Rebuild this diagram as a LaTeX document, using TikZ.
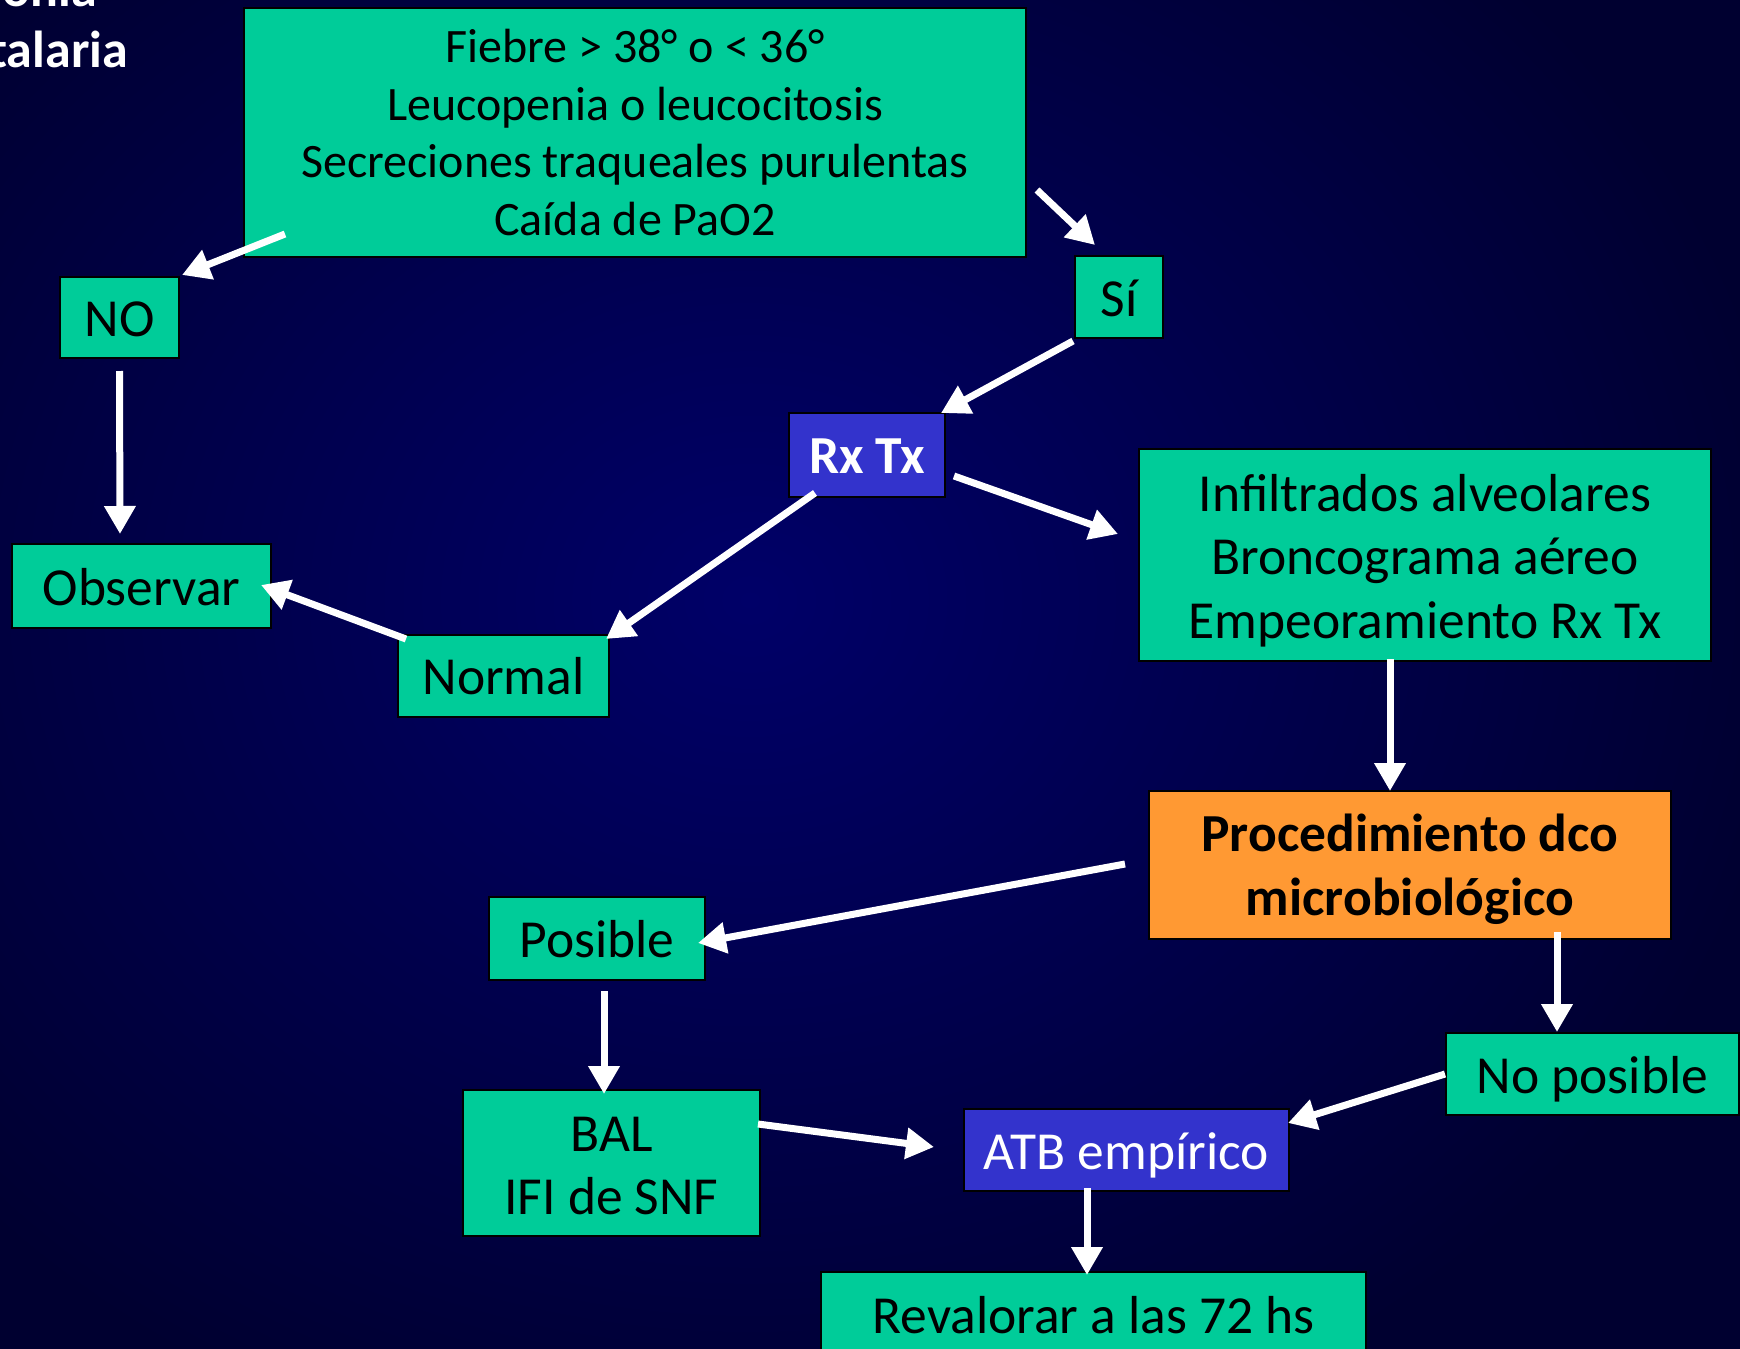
\documentclass[tikz,border=0pt]{standalone}
\usepackage{fontspec}
\setmainfont{Carlito}
\usetikzlibrary{arrows.meta}
\definecolor{bgin}{RGB}{0,0,104}
\definecolor{bgout}{RGB}{0,0,48}
\definecolor{gbox}{RGB}{0,204,153}
\definecolor{bbox}{RGB}{51,51,204}
\definecolor{obox}{RGB}{255,153,51}
\newcommand\lowr[2]{\raisebox{-#1pt}[\height][\depth]{#2}}
\tikzset{
  box/.style={draw=black, line width=2pt, inner sep=0pt, align=center, anchor=center},
  gnode/.style={box, fill=gbox, text=black},
  bnode/.style={box, fill=bbox, text=white},
  onode/.style={box, fill=obox, text=black},
  big/.style={font=\fontsize{53.5}{63.5}\selectfont},
  small/.style={font=\fontsize{48}{57.7}\selectfont},
  ttl/.style={anchor=base east, text=white, font=\fontsize{52}{62}\bfseries\selectfont, inner sep=0pt},
  arr/.style={draw=white, line width=7pt, -{Triangle[length=28pt,width=30pt]}},
}
\begin{document}
\begin{tikzpicture}[x=1pt,y=1pt]
\useasboundingbox (0,0) rectangle (1740,-1349);
\shade[inner color=bgin, outer color=bgout] (-300,300) rectangle (1800,-1500);
% title (cut off at the page edge, as in the reference)
\node[ttl] (t1) at (97,-6) {Neumonía};
\node[ttl] (t2) at (128,-67) {intrahospitalaria};
% nodes
\node[gnode, small, minimum width=782pt, minimum height=249pt] (top) at (635,-132.5) {Fiebre > 38° o < 36°\\Leucopenia o leucocitosis\\Secreciones traqueales purulentas\\Caída de PaO2};
\node[gnode, big, minimum width=119pt, minimum height=81pt] (no) at (119.5,-317.5) {\lowr{2}{NO}};
\node[gnode, big, minimum width=88pt, minimum height=82pt] (si) at (1119,-297) {\lowr{1}{Sí}};
\node[bnode, big, minimum width=156pt, minimum height=84pt] (rx) at (867,-455) {\lowr{1}{\bfseries Rx Tx}};
\node[gnode, big, minimum width=572pt, minimum height=212pt] (inf) at (1425,-555) {\lowr{5.5}{Infiltrados alveolares}\\\lowr{5.5}{Broncograma aéreo}\\\lowr{5.5}{Empeoramiento Rx Tx}};
\node[gnode, big, minimum width=259pt, minimum height=84pt] (obs) at (141.5,-586) {\lowr{1}{Observar}};
\node[gnode, big, minimum width=211pt, minimum height=82pt] (normal) at (503.5,-676) {Normal};
\node[onode, big, minimum width=522pt, minimum height=148pt] (proc) at (1410,-865) {\lowr{4.5}{\bfseries Procedimiento dco}\\\lowr{4.5}{\bfseries microbiológico}};
\node[gnode, big, minimum width=216pt, minimum height=83pt] (pos) at (597,-938.5) {\lowr{1}{Posible}};
\node[gnode, big, minimum width=293pt, minimum height=82pt] (nopos) at (1592.5,-1074) {\lowr{5.5}{No posible}};
\node[gnode, big, minimum width=297pt, minimum height=146pt] (bal) at (611.5,-1163) {\lowr{3}{BAL}\\\lowr{3}{IFI de SNF}};
\node[bnode, big, minimum width=325pt, minimum height=82pt] (atb) at (1126.5,-1150) {\lowr{5.5}{ATB empírico}};
\node[gnode, big, minimum width=545pt, minimum height=84pt] (rev) at (1093.5,-1314) {\lowr{1}{Revalorar a las 72 hs}};
% arrows
\draw[arr] ([shift={(42,24)}]top.south west) -- ([shift={(2,1)}]no.north east);
\draw[arr] ([shift={(10,68)}]top.south east) -- ([shift={(-24,10)}]si.north);
\draw[arr] ([shift={(-1,-2)}]si.south west) -- ([shift={(-5,-1)}]rx.north east);
\draw[arr] ([shift={(8,-21)}]rx.east) -- ([shift={(-20,21)}]inf.west);
\draw[arr] ([shift={(27,5)}]rx.south west) -- ([shift={(-4,-5)}]normal.north east);
\draw[arr] ([shift={(0,-12)}]no.south) -- ([shift={(-21.5,9)}]obs.north);
\draw[arr] ([shift={(9,-5)}]normal.north west) -- ([shift={(-11,1)}]obs.east);
\draw[arr] ([shift={(-35,3)}]inf.south) -- ([shift={(-20,-1)}]proc.north);
\draw[arr] ([shift={(-23,1)}]proc.west) -- ([shift={(-8,-4.5)}]pos.east);
\draw[arr] ([shift={(147,8)}]proc.south) -- ([shift={(-35.5,0)}]nopos.north);
\draw[arr] ([shift={(7,-10)}]pos.south) -- ([shift={(-7.5,-5)}]bal.north);
\draw[arr] ([shift={(-3,39)}]bal.east) -- ([shift={(-29,3)}]atb.west);
\draw[arr] (nopos.west) -- ([shift={(-2,-15)}]atb.north east);
\draw[arr] ([shift={(-39.5,4)}]atb.south) -- ([shift={(-6.5,-4)}]rev.north);
\end{tikzpicture}
\end{document}
